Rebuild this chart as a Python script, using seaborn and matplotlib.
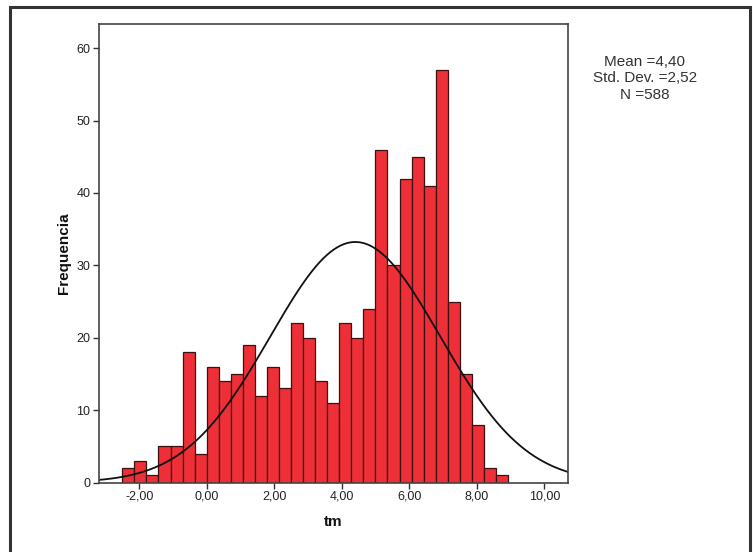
import numpy as np
import pandas as pd
import matplotlib
matplotlib.use("Agg")
import matplotlib.pyplot as plt
import seaborn as sns
from matplotlib.patches import Rectangle

# ---- data ----
bin_start = -2.50
bin_width = 0.357
counts = [2, 3, 1, 5, 5, 18, 4, 16, 14, 15, 19, 12, 16, 13, 22, 20,
          14, 11, 22, 20, 24, 46, 30, 42, 45, 41, 57, 25, 15, 8, 2, 1]
mean_val = 4.40
sd_val = 2.52
n_val = 588
x_ticks = [-2, 0, 2, 4, 6, 8, 10]
x_tick_labels = ["-2,00", "0,00", "2,00", "4,00", "6,00", "8,00", "10,00"]
y_ticks = [0, 10, 20, 30, 40, 50, 60]
stats_text = ["Mean =4,40", "Std. Dev. =2,52", "N =588"]

sns.set_theme(style="white")
plt.rcParams['font.family'] = ['Liberation Sans', 'DejaVu Sans']

edges = [bin_start + bin_width * i for i in range(len(counts) + 1)]
centers = [(edges[i] + edges[i + 1]) / 2 for i in range(len(counts))]
df = pd.DataFrame({"tm": centers, "w": counts})

fig = plt.figure(figsize=(7.53, 5.52), dpi=100)
ax = fig.add_axes([98.7 / 753, 1 - 482.5 / 552, (568.3 - 98.7) / 753, (482.5 - 24) / 552])

sns.histplot(data=df, x="tm", weights="w", bins=edges, ax=ax,
             color="#EE2F37", alpha=1.0, edgecolor="#3a1010", linewidth=0.9)

xs = np.linspace(-3.3, 10.8, 400)
ys = n_val * bin_width * np.exp(-0.5 * ((xs - mean_val) / sd_val) ** 2) / (sd_val * np.sqrt(2 * np.pi))
sns.lineplot(x=xs, y=ys, ax=ax, color="#111111", linewidth=1.3)

ax.set_xlim(-3.20, 10.71)
ax.set_ylim(0, 63.35)
ax.set_xticks(x_ticks)
ax.set_xticklabels(x_tick_labels)
ax.set_yticks(y_ticks)
ax.set_yticklabels([str(v) for v in y_ticks])
ax.tick_params(axis="both", which="both", direction="out", length=4, width=1,
               colors="#333333", labelsize=9, labelcolor="#222222", pad=2,
               bottom=True, left=True)
for s in ax.spines.values():
    s.set_visible(True)
    s.set_color("#444444")
    s.set_linewidth(1.2)
ax.set_xlabel("tm", fontsize=11, fontweight="bold", labelpad=9, color="#111111")
ax.set_ylabel("Frequencia", fontsize=11, fontweight="bold", labelpad=4, color="#111111")

for i, t in enumerate(stats_text):
    fig.text(645 / 753, 1 - (62 + i * 16.5) / 552, t, ha="center", va="center",
             fontsize=11, color="#333333")

# outer frame
fig.patches.append(Rectangle((10 / 753, -0.05), (750 - 10) / 753, 1 - 7.3 / 552 + 0.05,
                             transform=fig.transFigure, fill=False,
                             edgecolor="#333333", linewidth=2.2))

fig.savefig("out.png", dpi=100)
